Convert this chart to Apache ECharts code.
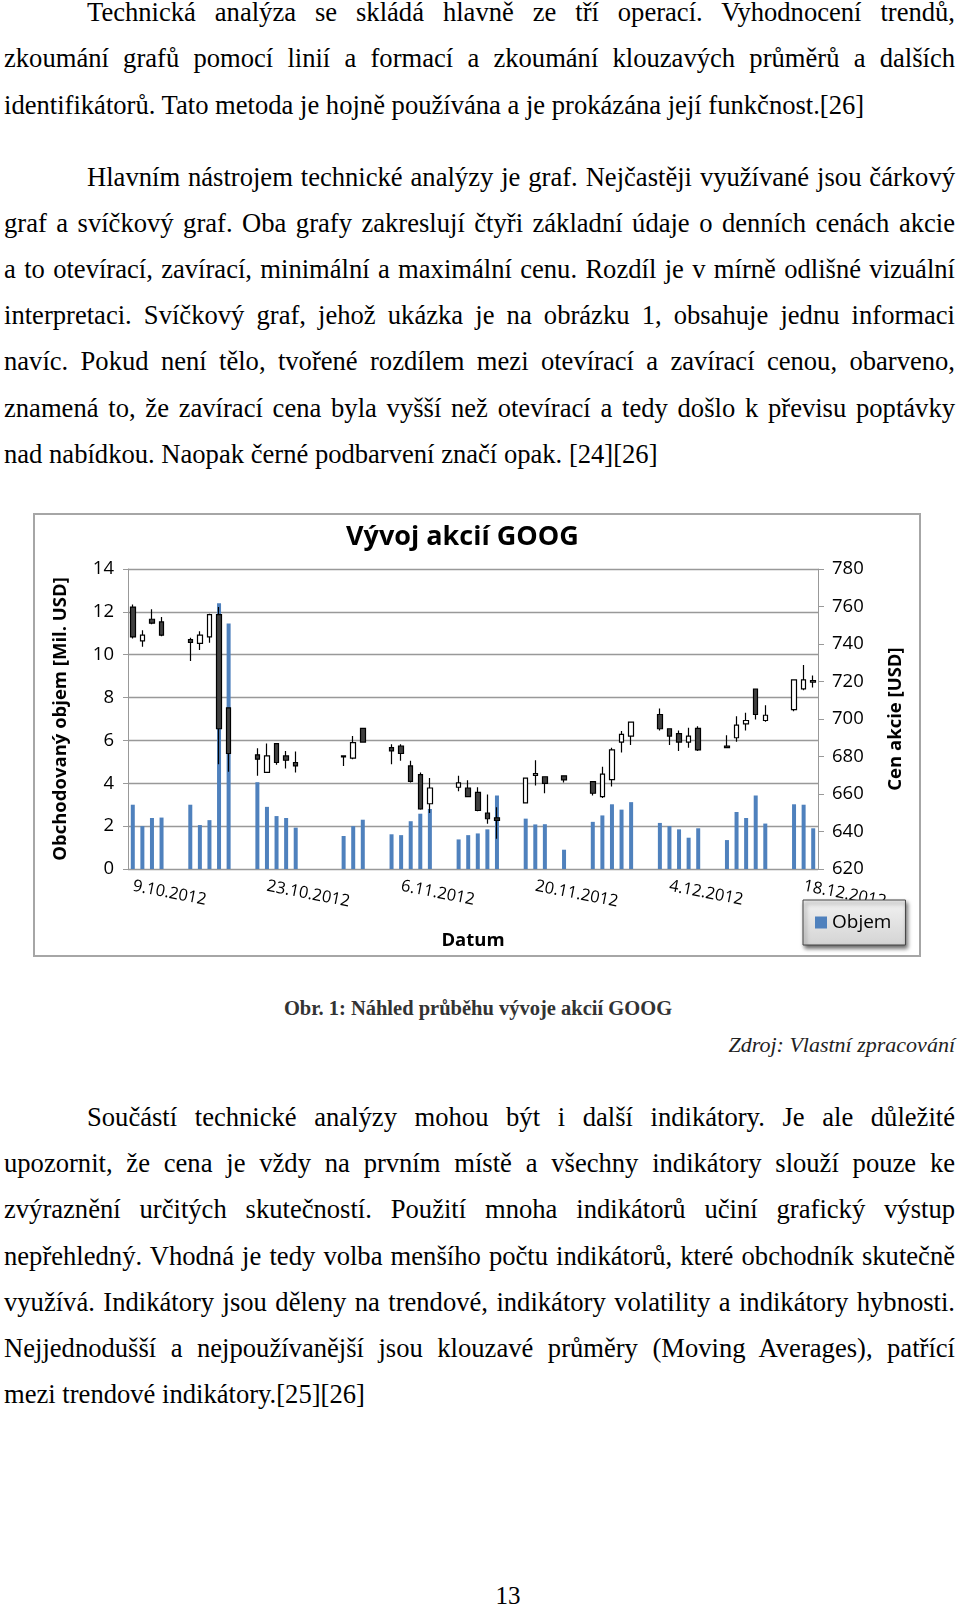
<!DOCTYPE html>
<html><head><meta charset="utf-8">
<script src="https://cdn.jsdelivr.net/npm/echarts@6/dist/echarts.min.js"></script>
<style>
body{margin:0;width:960px;height:1610px;position:relative;background:#fff;font-family:"Liberation Serif","Times New Roman",serif;color:#000;overflow:hidden}
.p{position:absolute;left:4px;width:951px;font-size:26.6px;line-height:46.2px}
.l{text-align:justify;text-align-last:justify;white-space:nowrap;overflow:visible}
.l.last{text-align-last:left}
.ind{padding-left:83px}
#chart{position:absolute;left:33px;top:513px;width:888px;height:444px;box-sizing:border-box;border:2px solid #a6a6a6}
</style></head><body>
<div class="p" style="top:-10.8px">
<div class="l ind">Technická analýza se skládá hlavně ze tří operací. Vyhodnocení trendů,</div>
<div class="l">zkoumání grafů pomocí linií a formací a zkoumání klouzavých průměrů a dalších</div>
<div class="l last">identifikátorů. Tato metoda je hojně používána a je prokázána její funkčnost.[26]</div>
</div>
<div class="p" style="top:153.5px">
<div class="l ind">Hlavním nástrojem technické analýzy je graf. Nejčastěji využívané jsou čárkový</div>
<div class="l">graf a svíčkový graf. Oba grafy zakreslují čtyři základní údaje o denních cenách akcie</div>
<div class="l">a to otevírací, zavírací, minimální a maximální cenu. Rozdíl je v mírně odlišné vizuální</div>
<div class="l">interpretaci. Svíčkový graf, jehož ukázka je na obrázku 1, obsahuje jednu informaci</div>
<div class="l">navíc. Pokud není tělo, tvořené rozdílem mezi otevírací a zavírací cenou, obarveno,</div>
<div class="l">znamená to, že zavírací cena byla vyšší než otevírací a tedy došlo k převisu poptávky</div>
<div class="l last">nad nabídkou. Naopak černé podbarvení značí opak. [24][26]</div>
</div>
<div id="chart"></div>
<div style="position:absolute;left:0;width:960px;top:997px;text-align:center;font-weight:bold;font-size:20.5px;color:#333"><span style="position:relative;left:-2px">Obr. 1: Náhled průběhu vývoje akcií GOOG</span></div>
<div style="position:absolute;right:5px;top:1032px;font-style:italic;font-size:22px;color:#222">Zdroj: Vlastní zpracování</div>
<div class="p" style="top:1094px">
<div class="l ind">Součástí technické analýzy mohou být i další indikátory. Je ale důležité</div>
<div class="l">upozornit, že cena je vždy na prvním místě a všechny indikátory slouží pouze ke</div>
<div class="l">zvýraznění určitých skutečností. Použití mnoha indikátorů učiní grafický výstup</div>
<div class="l">nepřehledný. Vhodná je tedy volba menšího počtu indikátorů, které obchodník skutečně</div>
<div class="l">využívá. Indikátory jsou děleny na trendové, indikátory volatility a indikátory hybnosti.</div>
<div class="l">Nejjednodušší a nejpoužívanější jsou klouzavé průměry (Moving Averages), patřící</div>
<div class="l last">mezi trendové indikátory.[25][26]</div>
</div>
<div style="position:absolute;left:0;width:1016px;top:1582px;text-align:center;font-size:25px">13</div>
<script>
// Trading days: day index from 9.10.2012
const tradeDay = [0,1,2,3,6,7,8,9,10,13,14,15,16,17,22,23,24,27,28,29,30,31,34,35,36,37,38,41,42,43,45,48,49,50,51,52,55,56,57,58,59,62,63,64,65,66,69,70,71];
const openP  = [759.7,741.7,753.2,751.8,742.4,740.3,743.8,755.7,705.9,680.9,671.5,686.9,680.3,676.8,680.3,679.1,695.0,684.7,685.6,675.0,670.3,654.8,663.6,663.2,660.9,649.8,647.3,655.3,669.9,669.2,669.7,666.6,658.6,667.7,687.7,690.9,702.4,694.8,692.2,687.7,695.0,685.6,690.0,697.4,716.0,699.2,705.0,716.1,719.7];
const closeP = [743.8,744.7,751.1,744.7,740.8,744.7,755.7,694.8,681.6,678.6,680.3,676.8,678.0,675.0,679.8,687.4,687.7,683.0,681.6,666.7,652.1,663.2,665.9,658.6,651.2,646.8,645.9,668.5,670.9,665.7,667.5,660.4,670.6,683.5,691.8,698.3,694.8,690.9,687.7,690.9,683.5,684.7,696.7,699.2,702.4,702.0,720.9,720.9,720.5];
const lowP   = [743.0,738.5,750.5,744.2,731.0,736.8,740.7,675.9,671.9,669.7,671.5,675.6,673.6,671.5,675.0,678.6,687.7,675.9,677.7,666.2,651.6,649.9,661.5,658.3,650.8,644.2,636.2,655.3,664.5,660.4,666.2,659.2,657.9,664.0,682.1,686.2,693.9,686.2,683.0,684.7,683.0,684.4,687.9,693.9,699.7,698.5,704.1,715.3,716.8];
const highP  = [761.1,747.4,758.5,754.4,743.3,746.8,756.2,759.7,705.9,684.4,686.9,686.9,683.0,682.7,680.3,690.9,695.0,686.5,686.5,677.7,671.5,668.5,669.7,667.4,663.6,659.7,652.9,668.5,678.0,669.2,669.7,666.6,674.5,684.7,693.6,698.3,705.6,694.8,693.9,695.3,696.2,691.4,701.5,703.3,716.0,707.3,720.9,728.8,723.2];
const volume = [3.0,2.0,2.38,2.4,3.0,2.05,2.28,12.4,11.46,4.05,2.9,2.47,2.38,1.93,1.54,2.0,2.3,1.62,1.58,2.23,2.58,2.8,1.38,1.58,1.66,1.85,3.43,2.35,2.08,2.09,0.9,2.2,2.5,3.02,2.77,3.12,2.15,2.0,1.85,1.46,1.9,1.35,2.66,2.38,3.43,2.12,3.02,3.0,1.9];
const nDays = 72;
const start = new Date(2012, 9, 9);
const categories = [];
for (let i = 0; i < nDays; i++) { const d = new Date(start.getTime() + i*86400000); categories.push(d.getDate()+'.'+(d.getMonth()+1)+'.'+d.getFullYear()); }
const candleData = categories.map(()=> '-');
const volData = categories.map(()=> '-');
tradeDay.forEach((d,i)=>{ candleData[d] = [openP[i], closeP[i], lowP[i], highP[i]]; volData[d] = volume[i]; });
const F = '"Open Sans", sans-serif';
const chart = echarts.init(document.getElementById('chart'));
chart.setOption({
  animation:false,
  title:{text:'Vývoj akcií GOOG',left:306,top:4,textStyle:{fontFamily:F,fontSize:27,fontWeight:'bold',color:'#000'}},
  legend:{data:[{name:'Objem',icon:'rect'}],left:768,top:385,itemWidth:12,itemHeight:12,padding:[13,14,13,12],
    backgroundColor:{type:'linear',x:0,y:0,x2:0,y2:1,colorStops:[{offset:0,color:'#f2f2f2'},{offset:1,color:'#d4d4d4'}]},
    borderColor:'#444',borderWidth:1,shadowColor:'rgba(0,0,0,0.6)',shadowBlur:4,shadowOffsetX:2,shadowOffsetY:3,
    textStyle:{fontFamily:F,fontSize:19,color:'#000'}},
  grid:{left:93,right:101,top:54,bottom:82},
  xAxis:{type:'category',data:categories,boundaryGap:true,
    name:'Datum',nameLocation:'middle',nameGap:62,nameTextStyle:{fontFamily:F,fontSize:18.5,fontWeight:'bold',color:'#000'},
    axisLine:{lineStyle:{color:'#999'}},axisTick:{interval:13,alignWithLabel:false,length:5,lineStyle:{color:'#999'}},
    axisLabel:{interval:13,rotate:-11,margin:17,fontFamily:F,fontSize:16.5,color:'#000'},splitLine:{show:false}},
  yAxis:[
    {type:'value',min:0,max:14,interval:2,name:'Obchodovaný objem [Mil. USD]',nameLocation:'middle',nameGap:58,
      nameTextStyle:{fontFamily:F,fontSize:18.5,fontWeight:'bold',color:'#000'},
      axisLine:{show:true,lineStyle:{color:'#999'}},axisTick:{show:true,length:5,lineStyle:{color:'#999'}},
      axisLabel:{fontFamily:F,fontSize:18.5,color:'#000',margin:14},splitLine:{lineStyle:{color:'#999',width:1.3}}},
    {type:'value',min:620,max:780,interval:20,name:'Cen akcie [USD]',nameLocation:'middle',nameGap:68,nameRotate:90,
      nameTextStyle:{fontFamily:F,fontSize:18.5,fontWeight:'bold',color:'#000'},
      axisLine:{show:true,lineStyle:{color:'#999'}},axisTick:{show:true,length:6,lineStyle:{color:'#999'}},
      axisLabel:{fontFamily:F,fontSize:18.5,color:'#000',margin:14},splitLine:{show:false}}
  ],
  series:[
    {name:'Objem',type:'bar',yAxisIndex:0,data:volData,barWidth:4,itemStyle:{color:'#4f81bd'},z:1},
    {name:'Cena',type:'candlestick',yAxisIndex:1,data:candleData,barWidth:5,z:3,
      itemStyle:{color:'#ffffff',color0:'#404040',borderColor:'#000',borderColor0:'#000',borderWidth:1.2}}
  ]
});
</script>
</body></html>
